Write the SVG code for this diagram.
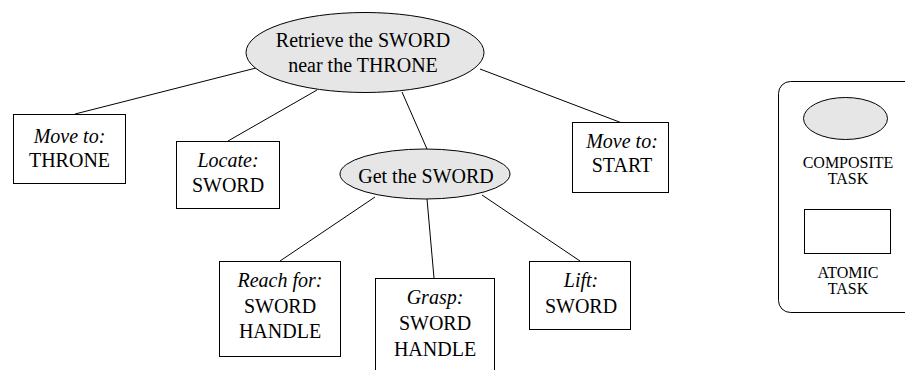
<svg xmlns="http://www.w3.org/2000/svg" width="905" height="370" viewBox="0 0 905 370" font-family="Liberation Serif, serif">
  <style>
    .link { stroke: #000; stroke-width: 1; fill: none; }
    .composite { fill: #e6e6e6; stroke: #000; stroke-width: 1; }
    .atomic { fill: #fff; stroke: #000; stroke-width: 1; }
    .lbl { font-family: "Liberation Serif", "Times New Roman", serif; font-size: 20px; fill: #000; text-anchor: middle; }
    .verb { font-style: italic; }
    .legend-text { font-size: 16px; }
  </style>
  <rect width="905" height="370" fill="#fff"/>

  <!-- connectors -->
  <g id="connectors">
    <line class="link" x1="256" y1="68" x2="75" y2="114"/>
    <line class="link" x1="317" y1="90" x2="228" y2="141"/>
    <line class="link" x1="402" y1="92" x2="427" y2="149"/>
    <line class="link" x1="480" y1="69" x2="622" y2="123"/>
    <line class="link" x1="375" y1="197" x2="280" y2="261"/>
    <line class="link" x1="427" y1="199" x2="434" y2="278"/>
    <line class="link" x1="482" y1="195" x2="580" y2="261"/>
  </g>

  <!-- root task -->
  <g id="retrieve-sword">
    <ellipse class="composite" cx="365" cy="52.5" rx="119" ry="40"/>
    <text class="lbl" x="363" y="47">Retrieve the SWORD</text>
    <text class="lbl" x="363" y="72">near the THRONE</text>
  </g>

  <g id="move-throne">
    <rect class="atomic" x="13.5" y="114.5" width="112" height="69"/>
    <text class="lbl verb" x="69.5" y="143">Move to:</text>
    <text class="lbl" x="69.5" y="167">THRONE</text>
  </g>

  <g id="locate-sword">
    <rect class="atomic" x="176.5" y="141.5" width="103" height="67"/>
    <text class="lbl verb" x="228" y="167">Locate:</text>
    <text class="lbl" x="228" y="192">SWORD</text>
  </g>

  <g id="get-sword">
    <ellipse class="composite" cx="425" cy="174" rx="85" ry="25"/>
    <text class="lbl" x="426" y="183">Get the SWORD</text>
  </g>

  <g id="move-start">
    <rect class="atomic" x="572.5" y="122.5" width="96" height="70"/>
    <text class="lbl verb" x="622" y="148">Move to:</text>
    <text class="lbl" x="622" y="172">START</text>
  </g>

  <g id="reach-handle">
    <rect class="atomic" x="219.5" y="261.5" width="121" height="95"/>
    <text class="lbl verb" x="280" y="287">Reach for:</text>
    <text class="lbl" x="280" y="313">SWORD</text>
    <text class="lbl" x="280" y="338">HANDLE</text>
  </g>

  <g id="grasp-handle">
    <rect class="atomic" x="375.5" y="278.5" width="119" height="100"/>
    <text class="lbl verb" x="435" y="304">Grasp:</text>
    <text class="lbl" x="435" y="330">SWORD</text>
    <text class="lbl" x="435" y="356">HANDLE</text>
  </g>

  <g id="lift-sword">
    <rect class="atomic" x="529.5" y="261.5" width="101" height="68"/>
    <text class="lbl verb" x="581" y="287">Lift:</text>
    <text class="lbl" x="581" y="313">SWORD</text>
  </g>

  <!-- legend -->
  <g id="legend">
    <rect class="atomic" x="778.5" y="81.5" width="140" height="231" rx="12" ry="12"/>
    <ellipse class="composite" cx="845.5" cy="118.5" rx="42" ry="21"/>
    <text class="lbl legend-text" x="848" y="168">COMPOSITE</text>
    <text class="lbl legend-text" x="848" y="184">TASK</text>
    <rect class="atomic" x="804.5" y="209.5" width="86" height="44"/>
    <text class="lbl legend-text" x="848" y="278">ATOMIC</text>
    <text class="lbl legend-text" x="848" y="294">TASK</text>
  </g>
</svg>
